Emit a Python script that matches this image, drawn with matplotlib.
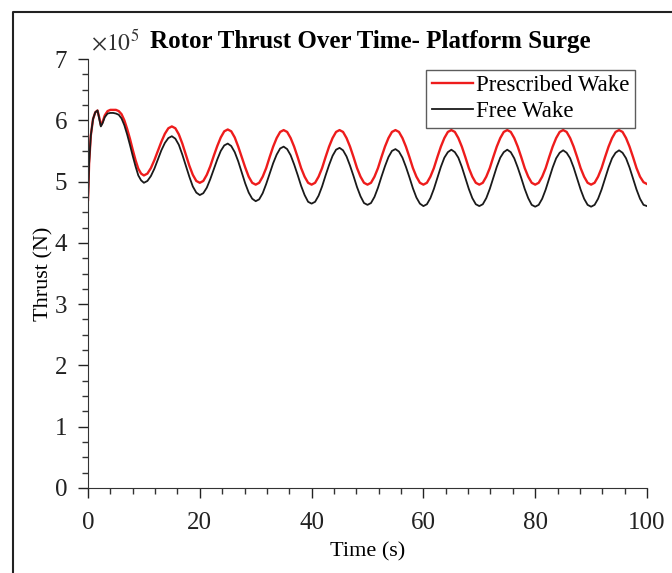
import matplotlib
matplotlib.use("Agg")
import matplotlib.pyplot as plt
from matplotlib.lines import Line2D
from matplotlib.ticker import MultipleLocator

plt.rcParams['font.family'] = ['Liberation Serif', 'DejaVu Serif']
plt.rcParams['mathtext.fontset'] = 'stix'

# Time (s)
time_start = [0, 0.2, 0.5, 0.9, 1.3, 1.7, 2.0, 2.3, 2.6, 3.0, 3.5, 4.0, 4.5, 5.0,
              5.5, 6.0, 6.5, 7.0, 7.5, 8.0, 8.5, 9.0, 9.5]
time_osc = [10 + 0.625 * i for i in range(145)]  # sample times 10 .. 100 s

# Thrust in units of 1e5 N
prescribed_start = [4.70, 5.30, 5.75, 6.02, 6.13, 6.16, 6.05, 5.92, 5.97, 6.08, 6.15, 6.17,
                    6.17, 6.17, 6.15, 6.10, 6.00, 5.86, 5.70, 5.52, 5.35, 5.21, 5.13]
free_start = [4.70, 5.30, 5.75, 6.02, 6.13, 6.16, 6.03, 5.90, 5.95, 6.05, 6.11, 6.12,
              6.12, 6.11, 6.09, 6.03, 5.92, 5.77, 5.60, 5.42, 5.25, 5.10, 5.02]

prescribed_osc = [
    5.10, 5.13, 5.22, 5.35, 5.50, 5.65, 5.78, 5.87, 5.90,   # 10-15
    5.87, 5.77, 5.62, 5.44, 5.26, 5.11, 5.01, 4.98,         # -20
    5.01, 5.11, 5.25, 5.42, 5.58, 5.72, 5.82, 5.85,         # -25
    5.82, 5.72, 5.57, 5.40, 5.23, 5.08, 4.98, 4.95,         # -30
    4.98, 5.08, 5.22, 5.40, 5.57, 5.71, 5.81, 5.84,         # -35
    5.81, 5.71, 5.57, 5.40, 5.22, 5.08, 4.98, 4.95,         # -40
    4.98, 5.08, 5.22, 5.40, 5.57, 5.71, 5.81, 5.84,         # -45
    5.81, 5.71, 5.57, 5.40, 5.22, 5.08, 4.98, 4.95,         # -50
    4.98, 5.08, 5.22, 5.40, 5.57, 5.71, 5.81, 5.84,         # -55
    5.81, 5.71, 5.57, 5.40, 5.22, 5.08, 4.98, 4.95,         # -60
    4.98, 5.08, 5.22, 5.40, 5.57, 5.71, 5.81, 5.84,         # -65
    5.81, 5.71, 5.57, 5.40, 5.22, 5.08, 4.98, 4.95,         # -70
    4.98, 5.08, 5.22, 5.40, 5.57, 5.71, 5.81, 5.84,         # -75
    5.81, 5.71, 5.57, 5.40, 5.22, 5.08, 4.98, 4.95,         # -80
    4.98, 5.08, 5.22, 5.40, 5.57, 5.71, 5.81, 5.84,         # -85
    5.81, 5.71, 5.57, 5.40, 5.22, 5.08, 4.98, 4.95,         # -90
    4.98, 5.08, 5.22, 5.40, 5.57, 5.71, 5.81, 5.84,         # -95
    5.81, 5.71, 5.57, 5.40, 5.22, 5.08, 4.99, 4.96,         # -100
]
free_osc = [
    4.98, 5.01, 5.09, 5.21, 5.36, 5.51, 5.63, 5.71, 5.74,   # 10-15
    5.70, 5.60, 5.44, 5.26, 5.08, 4.92, 4.82, 4.78,         # -20
    4.81, 4.90, 5.04, 5.20, 5.36, 5.50, 5.59, 5.62,         # -25
    5.58, 5.48, 5.33, 5.15, 4.97, 4.82, 4.72, 4.68,         # -30
    4.71, 4.81, 4.96, 5.13, 5.30, 5.44, 5.54, 5.57,         # -35
    5.53, 5.43, 5.28, 5.11, 4.93, 4.78, 4.67, 4.64,         # -40
    4.67, 4.77, 4.92, 5.10, 5.27, 5.42, 5.52, 5.55,         # -45
    5.51, 5.41, 5.26, 5.09, 4.91, 4.76, 4.65, 4.62,         # -50
    4.65, 4.75, 4.90, 5.08, 5.25, 5.40, 5.50, 5.53,         # -55
    5.49, 5.39, 5.24, 5.07, 4.89, 4.74, 4.64, 4.60,         # -60
    4.63, 4.73, 4.88, 5.06, 5.24, 5.39, 5.48, 5.52,         # -65
    5.48, 5.39, 5.24, 5.06, 4.88, 4.73, 4.63, 4.60,         # -70
    4.63, 4.73, 4.88, 5.06, 5.24, 5.39, 5.48, 5.52,         # -75
    5.48, 5.38, 5.23, 5.06, 4.88, 4.73, 4.62, 4.59,         # -80
    4.62, 4.72, 4.87, 5.05, 5.23, 5.38, 5.47, 5.51,         # -85
    5.47, 5.38, 5.23, 5.05, 4.87, 4.72, 4.62, 4.59,         # -90
    4.62, 4.72, 4.87, 5.05, 5.23, 5.38, 5.47, 5.51,         # -95
    5.47, 5.38, 5.23, 5.05, 4.87, 4.72, 4.62, 4.60,         # -100
]

time = time_start + time_osc
prescribed = prescribed_start + prescribed_osc
free = free_start + free_osc

W, H = 672, 573
fig = plt.figure(figsize=(W / 100, H / 100), dpi=100)
ax = fig.add_axes([88 / W, 1 - 488 / H, (647 - 88) / W, (488 - 59) / H])

ax.plot(time, prescribed, color='#ee1c1c', lw=1.7, label='Prescribed Wake')
ax.plot(time, free, color='#1a1a1a', lw=1.3, label='Free Wake')

ax.set_xlim(0, 100)
ax.set_ylim(0, 7)
ax.xaxis.set_major_locator(MultipleLocator(20))
ax.xaxis.set_minor_locator(MultipleLocator(4))
ax.yaxis.set_major_locator(MultipleLocator(1))
ax.yaxis.set_minor_locator(MultipleLocator(0.25))
ax.tick_params(which='major', direction='out', length=7, width=1, labelsize=18,
               colors='#222222')
ax.tick_params(axis='x', which='major', pad=10)
ax.tick_params(axis='y', which='major', pad=8)
ax.tick_params(which='minor', direction='out', length=4, width=1, colors='#333333')
ax.spines['top'].set_visible(False)
ax.spines['right'].set_visible(False)
for s in ('left', 'bottom'):
    ax.spines[s].set_color('#333333')

ax.set_xlabel('Time (s)', fontsize=16, labelpad=6)
ax.set_ylabel('Thrust (N)', fontsize=16, labelpad=1)
ax.set_title('Rotor Thrust Over Time- Platform Surge', fontsize=18, fontweight='bold',
             pad=8, x=0.505)

ax.text(0.005, 1.01, r'$\times10^5$', transform=ax.transAxes, fontsize=17,
        ha='left', va='bottom', color='#333333')

leg = ax.legend(loc='upper right', bbox_to_anchor=(0.978, 0.975), fontsize=16.5,
                frameon=True, fancybox=False, edgecolor='#333333', handlelength=1.8,
                handletextpad=0.1, borderpad=0.25, labelspacing=0.2, borderaxespad=0.0)
leg.get_frame().set_linewidth(1.0)

# figure border
fig.add_artist(Line2D([13 / W, 13 / W, 1.0], [0.0, 1 - 12 / H, 1 - 12 / H],
                      transform=fig.transFigure, color='#222222', lw=1.5))

fig.savefig('out.png', dpi=100)
